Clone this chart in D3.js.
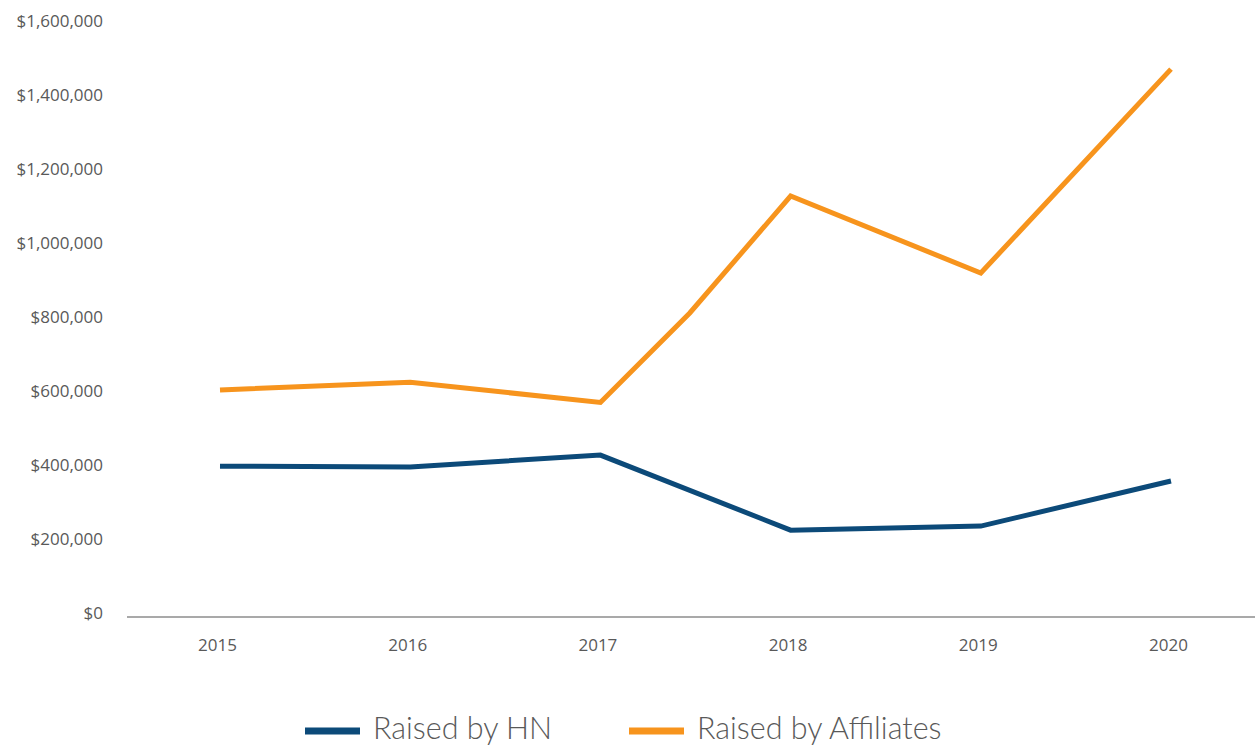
<!DOCTYPE html>
<html>
<head>
<meta charset="utf-8">
<script src="https://cdn.jsdelivr.net/npm/d3@7"></script>
<style>
  html, body { margin: 0; padding: 0; background: #fff; }
  svg { display: block; }
</style>
</head>
<body>
<svg id="chart" width="1255" height="747"></svg>
<script>
// ---- data ----
const years = [2015, 2016, 2017, 2018, 2019, 2020];
const hnYears = [2015, 2016, 2017, 2018, 2019, 2020];
const hnValues = [405000, 403000, 435000, 232000, 243000, 365000];
const affYears = [2015, 2016, 2017, 2017.47, 2018, 2019, 2020];
const affValues = [611000, 632000, 577000, 819000, 1135000, 927000, 1478000];
const yTicks = [0, 200000, 400000, 600000, 800000, 1000000, 1200000, 1400000, 1600000];
const seriesNames = ["Raised by HN", "Raised by Affiliates"];
const seriesColors = ["#0c4a79", "#f7941d"];

// ---- layout ----
const svg = d3.select("#chart");
const x = d3.scaleLinear().domain([2015, 2020]).range([220, 1171]);
const y = d3.scaleLinear().domain([0, 1600000]).range([616, 24]);
const textColor = "#595959";
const fmt = v => "$" + d3.format(",")(v);

// y axis labels
const yAxis = svg.append("g").attr("transform", "translate(103,0)")
  .call(d3.axisLeft(y).tickValues(yTicks).tickFormat(fmt).tickSize(0).tickPadding(0));
yAxis.select(".domain").remove();
yAxis.selectAll("text")
  .attr("fill", textColor)
  .attr("dy", "0.32em")
  .attr("transform", "translate(0,-3)")
  .style("font-family", "'Open Sans', sans-serif")
  .style("font-size", "17px");

// baseline
svg.append("line")
  .attr("x1", 127).attr("x2", 1255)
  .attr("y1", y(0) + 1).attr("y2", y(0) + 1)
  .attr("stroke", "#8c8c8c").attr("stroke-width", 1.5);

// x axis labels
const xAxis = svg.append("g").attr("transform", "translate(-3," + (y(0) + 1) + ")")
  .call(d3.axisBottom(x).tickValues(years).tickFormat(d3.format("d")).tickSize(0).tickPadding(22));
xAxis.select(".domain").remove();
xAxis.selectAll("text")
  .attr("fill", textColor)
  .style("font-family", "'Open Sans', sans-serif")
  .style("font-size", "17px");

// lines
const line = d3.line().x(d => x(d[0])).y(d => y(d[1]));
const hnData = hnYears.map((yr, i) => [yr, hnValues[i]]);
const affData = affYears.map((yr, i) => [yr, affValues[i]]);

svg.append("path").datum(hnData)
  .attr("d", line).attr("fill", "none")
  .attr("stroke", seriesColors[0]).attr("stroke-width", 5)
  .attr("stroke-linejoin", "miter");
svg.append("path").datum(affData)
  .attr("d", line).attr("fill", "none")
  .attr("stroke", seriesColors[1]).attr("stroke-width", 5)
  .attr("stroke-linejoin", "miter");

// legend
const legendX = [305, 629];
const legend = svg.append("g");
seriesNames.forEach((name, i) => {
  legend.append("line")
    .attr("x1", legendX[i]).attr("x2", legendX[i] + 55)
    .attr("y1", 731).attr("y2", 731)
    .attr("stroke", seriesColors[i]).attr("stroke-width", 7);
  legend.append("text")
    .attr("x", legendX[i] + 68).attr("y", 739)
    .attr("fill", textColor)
    .style("font-family", "Lato, sans-serif")
    .style("font-weight", 300)
    .style("font-size", "30.5px")
    .text(name);
});
</script>
</body>
</html>
